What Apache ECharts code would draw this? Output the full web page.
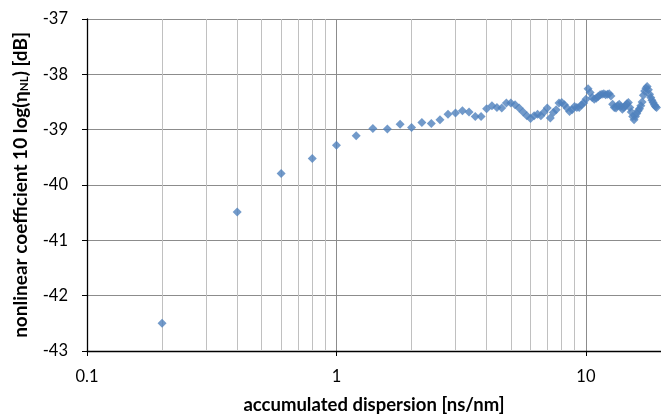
<!DOCTYPE html>
<html>
<head>
<meta charset="utf-8">
<script src="https://cdn.jsdelivr.net/npm/echarts@6/dist/echarts.min.js"></script>
<style>html,body{margin:0;padding:0;background:#fff;}#c{width:661px;height:420px;}</style>
</head>
<body>
<div id="c"></div>
<script>
const dispersion = [0.2,0.4,0.6,0.8,1.0,1.2,1.4,1.6,1.8,2.0,2.2,2.4,2.6,2.8,3.0,3.2,3.4,3.6,3.8,4.0,
  4.2,4.4,4.6,4.8,5.0,5.2,5.4,5.6,5.8,6.0,6.2,6.4,6.6,6.8,7.0,7.2,7.4,7.6,7.8,8.0,
  8.2,8.4,8.6,8.8,9.0,9.2,9.4,9.6,9.8,10.0,10.2,10.4,10.6,10.8,11.0,11.2,11.4,11.6,11.8,12.0,
  12.2,12.4,12.6,12.8,13.0,13.2,13.4,13.6,13.8,14.0,14.2,14.4,14.6,14.8,15.0,15.2,15.4,15.6,15.8,16.0,
  16.2,16.4,16.6,16.8,17.0,17.2,17.4,17.6,17.8,18.0,18.2,18.4,18.6,18.8,19.0,19.2];
const nlCoef = [-42.50,-40.49,-39.79,-39.52,-39.28,-39.11,-38.98,-38.99,-38.90,-38.96,-38.87,-38.89,-38.82,-38.72,-38.70,-38.66,-38.68,-38.76,-38.76,-38.62,
  -38.57,-38.60,-38.61,-38.52,-38.52,-38.55,-38.61,-38.68,-38.75,-38.80,-38.75,-38.72,-38.75,-38.68,-38.61,-38.79,-38.69,-38.64,-38.52,-38.51,
  -38.55,-38.61,-38.67,-38.64,-38.58,-38.60,-38.60,-38.55,-38.52,-38.45,-38.26,-38.33,-38.42,-38.45,-38.43,-38.40,-38.37,-38.36,-38.35,-38.37,
  -38.36,-38.35,-38.39,-38.54,-38.60,-38.61,-38.57,-38.54,-38.58,-38.63,-38.60,-38.57,-38.53,-38.51,-38.60,-38.68,-38.76,-38.82,-38.76,-38.71,
  -38.66,-38.62,-38.57,-38.50,-38.38,-38.30,-38.25,-38.22,-38.28,-38.36,-38.42,-38.47,-38.51,-38.55,-38.58,-38.60];
const minorGridX = [0.2,0.3,0.4,0.5,0.6,0.7,0.8,0.9,2,3,4,5,6,7,8,9];
const xMin = 0.1, xMax = 20, yMin = -43, yMax = -37, yStep = 1;

const font = 'Lato, "Open Sans", sans-serif';
const chart = echarts.init(document.getElementById('c'), null, {renderer:'canvas'});
chart.setOption({
  animation:false,
  backgroundColor:'#ffffff',
  grid:{left:87, top:19, width:576.5, height:335, containLabel:false},
  xAxis:{
    type:'log', logBase:10, min:xMin, max:xMax,
    name:'accumulated dispersion [ns/nm]', nameLocation:'middle', nameGap:45,
    nameTextStyle:{fontFamily:font, fontSize:18.5, fontWeight:'bold', color:'#000'},
    axisLine:{show:true, onZero:false, lineStyle:{color:'#000', width:1.3}},
    axisTick:{show:true, length:5, lineStyle:{color:'#000'}},
    axisLabel:{fontFamily:font, fontSize:16.5, color:'#000', margin:17, showMaxLabel:false,
      formatter:function(v){return String(v);}},
    splitLine:{show:true, lineStyle:{color:'#8c8c8c', width:1}},
    minorTick:{show:false}, minorSplitLine:{show:false}
  },
  yAxis:{
    type:'value', min:yMin, max:yMax, interval:yStep,
    name:'{a|nonlinear coefficient 10 log(η}{s|NL}{a|) [dB]}', nameLocation:'middle', nameGap:57,
    nameTextStyle:{rich:{
      a:{fontFamily:font, fontSize:19, fontWeight:'bold', color:'#000'},
      s:{fontFamily:font, fontSize:11.5, fontWeight:'bold', color:'#000', verticalAlign:'bottom', padding:[7,0,0,0]}
    }},
    axisLine:{show:true, lineStyle:{color:'#000', width:1.3}},
    axisTick:{show:true, length:5, lineStyle:{color:'#000'}},
    axisLabel:{fontFamily:font, fontSize:16.5, color:'#000', margin:19},
    splitLine:{show:true, lineStyle:{color:'#8c8c8c', width:1}}
  },
  series:[{
    type:'scatter',
    data: dispersion.map((x,i)=>[x, nlCoef[i]]),
    symbol:'diamond', symbolSize:[9,9],
    itemStyle:{color:'#4f81bd'},
    z:5,
    markLine:{
      silent:true, symbol:['none','none'], label:{show:false},
      lineStyle:{color:'#c0c0c0', type:'solid', width:1},
      data: minorGridX.map(v=>({xAxis:v})),
      z:1
    }
  }]
});
</script>
</body>
</html>
